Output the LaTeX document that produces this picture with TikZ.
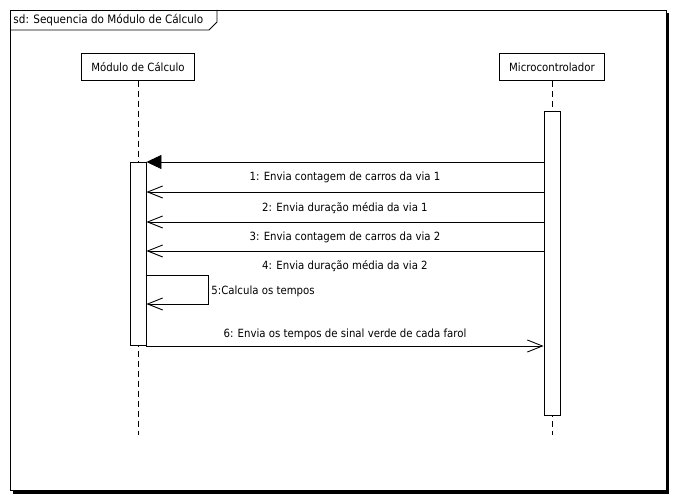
\documentclass[tikz,border=0pt]{standalone}
\usepackage{fontspec}
\setmainfont{DejaVu Sans Condensed}
\usetikzlibrary{arrows.meta,positioning}

\def \lifeEnd {435}
\def \selfWidth {62}

\tikzset{
  head/.style={draw, fill=white, minimum height=27pt, inner xsep=10pt, inner ysep=0pt},
  lifeline/.style={dash pattern=on 6pt off 4pt},
  actbar/.style={draw, fill=white, minimum width=16pt, inner sep=0pt},
  sync/.style={-{Triangle[length=15pt,width=14pt]}},
  reply/.style={-{Straight Barb[length=15pt,width=12pt]}},
  msglabel/.style={inner sep=0pt}
}

\begin{document}
\begin{tikzpicture}[x=1pt, y=-1pt, line width=0.9pt, font=\fontsize{11.3}{13}\selectfont]
   \useasboundingbox (0,0) rectangle (678,502);
   % frame with shadow
   \fill (13,13) rectangle (669,494);
   \filldraw[fill=white] (10,10) rectangle (666,490);
   \draw (10,30) -- (209,30) -- (217,22) -- (217,10);
   \node[msglabel, anchor=west, font=\fontsize{11.6}{13}\selectfont] (title) at (13,20) {sd: Sequencia do Módulo de Cálculo};

   % lifelines
   \node[head] (mod) at (138,67) {Módulo de Cálculo};
   \node[head] (mic) at (552,67) {Microcontrolador};
   \coordinate (modEnd) at (138,\lifeEnd);
   \coordinate (micEnd) at (552,\lifeEnd);
   \draw[lifeline] (mod.south) -- (modEnd);
   \draw[lifeline] (mic.south) -- (micEnd);

   % activations
   \node[actbar, minimum height=183pt] (modAct) at (138,253.5) {};
   \node[actbar, minimum height=304pt] (micAct) at (552,263) {};

   % messages
   \coordinate (m0) at (0,162);
   \coordinate (m1) at (0,192);
   \coordinate (m2) at (0,222);
   \coordinate (m3) at (0,251);
   \coordinate (m5) at (0,275);
   \coordinate (m5b) at (0,304);
   \coordinate (m6) at (0,346);
   \draw[sync] (micAct.west |- m0) -- (modAct.east |- m0);
   \draw[reply] (micAct.west |- m1) -- node[msglabel, yshift=15pt] {1: Envia contagem de carros da via 1} (modAct.east |- m1);
   \draw[reply] (micAct.west |- m2) -- node[msglabel, yshift=14pt] {2: Envia duração média da via 1} (modAct.east |- m2);
   \draw[reply] (micAct.west |- m3) -- node[msglabel, yshift=14pt] {3: Envia contagem de carros da via 2} (modAct.east |- m3);
   \node[msglabel] (lbl4) at (345,266) {4: Envia duração média da via 2};
   \draw[reply] (modAct.east |- m5) -- ++(\selfWidth,0) coordinate (selfTurn) -- (selfTurn |- m5b) -- (modAct.east |- m5b);
   \node[msglabel, anchor=west] (lbl5) at (211,291) {5:Calcula os tempos};
   \draw[reply] (modAct.east |- m6) -- node[msglabel, yshift=12pt] {6: Envia os tempos de sinal verde de cada farol} (micAct.west |- m6);
\end{tikzpicture}
\end{document}
